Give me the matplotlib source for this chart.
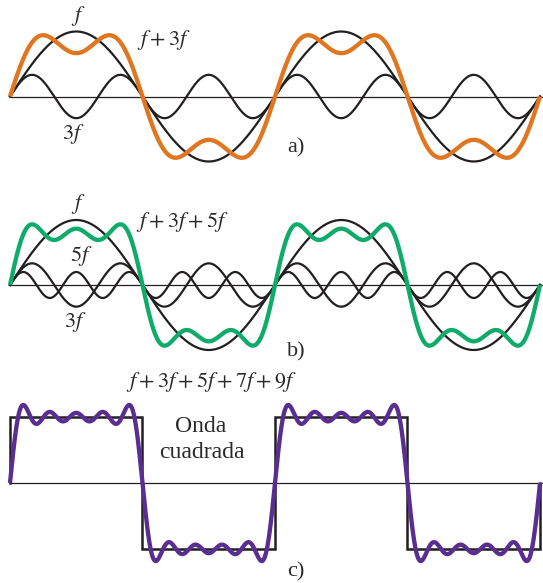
import numpy as np
import matplotlib
matplotlib.use("Agg")
import matplotlib.pyplot as plt

# ---- data ----
harmonics = [1, 3, 5, 7, 9]                 # harmonic orders (f, 3f, 5f, 7f, 9f)
amplitudes = [1, 1/3, 1/5, 1/7, 1/9]        # relative amplitude of each harmonic
panel_terms = [2, 3, 5]                     # number of harmonics summed in a), b), c)
square_edges = [0, np.pi, 2*np.pi, 3*np.pi, 4*np.pi]   # half-period boundaries
square_levels = [1, -1, 1, -1]              # square-wave levels
square_scale = 4 / np.pi                    # Fourier scale for square wave
panel_tags = ["a)", "b)", "c)"]
sum_labels = ["$f + 3f$", "$f + 3f + 5f$", "$f + 3f + 5f + 7f + 9f$"]
harm_labels = ["$f$", "$3f$", "$5f$"]

# ---- style ----
plt.rcParams['mathtext.fontset'] = 'stix'
plt.rcParams['font.family'] = ['Liberation Serif', 'DejaVu Serif']
W, H = 543, 583
DPI = 100
BLACK = '#231f20'
TEXT = '#2a2a2a'
COLORS = ['#e0761f', '#0fab6b', '#5a2d92']

fig = plt.figure(figsize=(W/DPI, H/DPI), dpi=DPI)

X0, X1 = 10, 540          # pixel span of two periods
XR = 543

def make_axes(top, bottom, y0, amp):
    ax = fig.add_axes([0, 1 - bottom/H, 1, (bottom - top)/H])
    ax.set_xlim(-(X0)/(X1-X0)*4*np.pi, (XR-X0)/(X1-X0)*4*np.pi)
    ax.set_ylim(-(bottom - y0)/amp, (y0 - top)/amp)
    ax.axis('off')
    def p2d(px, py):
        return ((px - X0)/(X1-X0)*4*np.pi, (y0 - py)/amp)
    return ax, p2d

x = np.linspace(0, 4*np.pi, 3000)
xend = (XR-X0)/(X1-X0)*4*np.pi

def harm(i):
    return amplitudes[i]*np.sin(harmonics[i]*x)

panels = [(0, 170, 96.5, 65), (170, 365, 285, 65), (365, 583, 483, 66)]
tfs = 16

for k, (top, bottom, y0, amp) in enumerate(panels):
    ax, p2d = make_axes(top, bottom, y0, amp)
    ax.plot([0, xend], [0, 0], color=BLACK, lw=0.9, solid_capstyle='butt')
    n = panel_terms[k]
    if k < 2:
        for i in range(n):
            ax.plot(x, harm(i), color=BLACK, lw=1.6)
        total = sum(harm(i) for i in range(n))
    else:
        sx, sy = [square_edges[0]], [0]
        for j, lev in enumerate(square_levels):
            sx += [square_edges[j], square_edges[j+1]]
            sy += [lev, lev]
        sx.append(square_edges[-1]); sy.append(0)
        ax.plot(sx, sy, color=BLACK, lw=1.8, solid_joinstyle='miter')
        total = square_scale*sum(harm(i) for i in range(n))
    ax.plot(x, total, color=COLORS[k], lw=3.1, solid_capstyle='butt', zorder=5)

    kw = dict(fontsize=tfs, va='center', color=TEXT)
    if k == 0:
        ax.text(*p2d(78, 16), harm_labels[0], ha='center', **kw)
        ax.text(*p2d(137, 40), sum_labels[0], ha='left', **kw)
        ax.text(*p2d(73, 134), harm_labels[1], ha='center', **kw)
        ax.text(*p2d(287, 148), panel_tags[0], ha='left', **kw)
    elif k == 1:
        ax.text(*p2d(78, 204), harm_labels[0], ha='center', **kw)
        ax.text(*p2d(136, 222), sum_labels[1], ha='left', **kw)
        ax.text(*p2d(81, 256), harm_labels[2], ha='center', **kw)
        ax.text(*p2d(75, 322), harm_labels[1], ha='center', **kw)
        ax.text(*p2d(287, 352), panel_tags[1], ha='left', **kw)
    else:
        ax.text(*p2d(126, 382), sum_labels[2], ha='left', **kw)
        ax.text(*p2d(201, 427), "Onda", fontsize=17, ha='center', va='center', color=TEXT)
        ax.text(*p2d(202, 453), "cuadrada", fontsize=17, ha='center', va='center', color=TEXT)
        ax.text(*p2d(287, 572), panel_tags[2], ha='left', **kw)

fig.savefig("out.png", dpi=DPI)
